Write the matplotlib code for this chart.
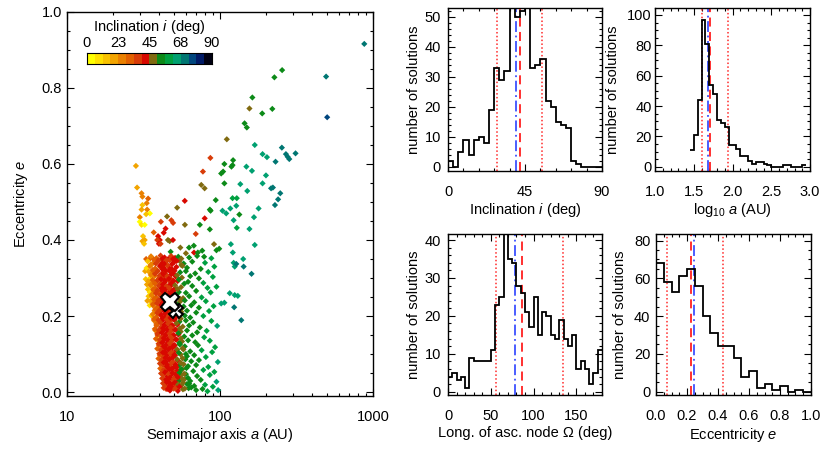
import numpy as np
import matplotlib
matplotlib.use("Agg")
import matplotlib.pyplot as plt
from matplotlib.colors import ListedColormap, BoundaryNorm
from matplotlib.ticker import MultipleLocator, FixedLocator, NullFormatter

plt.rcParams['font.family'] = ['Liberation Sans', 'DejaVu Sans']
plt.rcParams['font.size'] = 10.5
plt.rcParams['mathtext.fontset'] = 'custom'
plt.rcParams['mathtext.rm'] = 'Liberation Sans'
plt.rcParams['mathtext.it'] = 'Liberation Sans:italic'

# --- orbital solutions: sparse outer part (a [AU], e, i [deg]) ---
out_a = [255, 227, 494, 502, 163, 156, 189, 220, 145, 150,
         111, 169, 254, 270, 277, 284, 312, 190, 203, 231,
         86.7, 28.3, 107, 122, 121, 119, 149, 162, 77.5, 102,
         105, 200, 75.6, 79.5, 28.8, 107, 136, 190, 151, 216,
         222, 248, 30.8, 31.2, 34.0, 33.3, 94, 121, 129, 240,
         229, 59, 31.2, 30.8, 33.5, 52.6, 86, 87, 117, 128,
         179, 104, 110, 34.9, 33, 30, 45.2, 134, 167, 79.6,
         48.2, 49.5, 30, 30.8, 32.3, 59.1, 41.2, 123, 74, 129,
         156, 86, 69.6, 44.2, 43, 37, 39.5, 40.5, 39, 40,
         41, 31.5, 32.3, 31.2, 32, 45.8, 47, 49.4, 55.2, 62.9,
         67.6, 60, 67.8, 76.7, 78.9, 91.6, 95, 99, 118, 121.5,
         169, 33, 34.8, 161, 142, 143, 125, 123, 128, 116,
         125, 131, 102, 107, 124, 138, 97.4, 877, 42, 47.7,
         71.8, 32.5, 32.8, 33.4, 33.9, 34.2, 33.6, 34.8]
out_e = [0.847, 0.828, 0.83, 0.723, 0.775, 0.746, 0.733, 0.745, 0.707, 0.696,
         0.665, 0.65, 0.643, 0.626, 0.619, 0.613, 0.628, 0.626, 0.618, 0.606,
         0.616, 0.595, 0.60, 0.61, 0.597, 0.593, 0.593, 0.582, 0.58, 0.575,
         0.58, 0.57, 0.545, 0.536, 0.538, 0.549, 0.547, 0.549, 0.529, 0.536,
         0.538, 0.523, 0.523, 0.514, 0.509, 0.497, 0.505, 0.51, 0.51, 0.507,
         0.492, 0.503, 0.492, 0.48, 0.48, 0.485, 0.48, 0.477, 0.483, 0.49,
         0.483, 0.477, 0.47, 0.47, 0.468, 0.46, 0.462, 0.467, 0.46, 0.457,
         0.452, 0.445, 0.448, 0.44, 0.44, 0.44, 0.448, 0.452, 0.44, 0.432,
         0.429, 0.428, 0.416, 0.43, 0.419, 0.42, 0.41, 0.40, 0.40, 0.39,
         0.39, 0.41, 0.40, 0.397, 0.39, 0.40, 0.397, 0.40, 0.38, 0.38,
         0.385, 0.365, 0.367, 0.372, 0.356, 0.389, 0.373, 0.377, 0.389, 0.367,
         0.387, 0.35, 0.35, 0.311, 0.35, 0.33, 0.33, 0.34, 0.337, 0.26,
         0.255, 0.253, 0.233, 0.235, 0.223, 0.189, 0.005, 0.916, 0.35, 0.369,
         0.367, 0.318, 0.297, 0.283, 0.27, 0.252, 0.240, 0.228]
out_i = [54, 56, 70, 75, 54, 50, 55, 56, 53, 52,
         49, 63, 70, 70, 71, 72, 70, 64, 65, 72,
         38, 20, 54, 55, 53, 56, 63, 64, 38, 54,
         55, 64, 48, 48, 20, 55, 63, 64, 62, 68,
         68, 72, 24, 26, 30, 28, 55, 57, 60, 72,
         73, 42, 15, 19, 26, 48, 55, 54, 62, 66,
         63, 64, 64, 5, 14, 24, 48, 56, 64, 42,
         35, 35, 4, 8, 3, 48, 36, 62, 54, 58,
         63, 55, 38, 40, 42, 32, 40, 42, 36, 43,
         37, 14, 19, 22, 16, 47, 46, 42, 48, 53,
         55, 48, 42, 54, 53, 50, 55, 56, 63, 63,
         63, 30, 33, 72, 66, 70, 64, 66, 68, 64,
         63, 66, 62, 63, 70, 71, 64, 68, 47, 53,
         55, 18, 12, 20, 16, 14, 22, 10]

# --- dense band of solutions near a ~ 40-60 AU ---
band_a = [35.5, 38.5, 41, 43.5, 46, 48, 51, 53.5, 56, 63, 71, 88,
          33.8, 36.8, 39.5, 42, 44.5, 47, 50, 54.5, 58, 66, 80,
          33.2, 35, 37.8, 40.6, 43, 45.5, 48.5, 52, 57, 61, 75, 92,
          34.3, 36.2, 39, 41.8, 44, 46.8, 49.5, 55, 60, 69, 84,
          35.1, 37.5, 40, 42.5, 45, 47.8, 51.5, 56.5, 64, 73, 90,
          34, 36.5, 38.8, 41.2, 43.8, 46.3, 49, 53, 58.5, 62, 78,
          35.6, 37.9, 40.3, 42.9, 45.4, 48.2, 51, 55.8, 66, 83, 95,
          34.9, 37, 39.6, 42, 44.6, 47.3, 50.3, 54, 60, 70, 87,
          36, 38.3, 41, 43.4, 46, 48.8, 52.5, 57.5, 63, 76,
          35.3, 37.6, 40, 42.3, 44.9, 47.6, 50.8, 55, 59, 68, 81,
          36.7, 39.1, 41.5, 44.1, 46.6, 49.5, 53.5, 58, 65, 73, 91,
          37.5, 40.2, 42.7, 45.2, 47.9, 51.2, 56, 61, 70, 85,
          35.8, 38.4, 41, 43.6, 46.1, 48.9, 52, 59, 64, 78,
          37.2, 39.8, 42.2, 44.8, 47.4, 50.4, 54.5, 60, 67, 88,
          38.6, 41.3, 43.9, 46.4, 49.2, 52.8, 57.2, 63, 74, 96,
          37.9, 40.5, 43, 45.6, 48.3, 51.6, 55.5, 61, 71, 82,
          39.3, 41.8, 44.3, 46.9, 49.8, 53.6, 58.5, 66, 79,
          39.5, 40.8, 43.3, 45.9, 48.6, 52.2, 56.6, 62, 69, 86,
          40.1, 42.6, 45.1, 47.7, 50.7, 54.8, 59, 72, 93,
          41.2, 43.7, 46.2, 48.9, 52, 57.8, 64, 76, 89,
          40.6, 42.9, 45.4, 48, 50.9, 55.4, 61, 68, 81,
          41.7, 44.2, 46.8, 49.6, 53, 59.5, 65, 73, 97,
          42.3, 44.9, 47.5, 50.3, 54.2, 58, 62, 70, 84,
          41.9, 44.5, 47.1, 49.9, 52.8, 56.9, 67, 78, 92,
          42.8, 45.6, 48.3, 51.3, 55.7, 60, 71, 86,
          43.4, 46.1, 48.8, 51.8, 54.5, 58.8, 64, 75, 95,
          44, 46.7, 49.3, 52.4, 56.2, 61, 68, 80, 90,
          44.6, 47.2, 50, 53.2, 57.4, 62.5, 70, 77, 83]
band_e = [0.357, 0.352, 0.359, 0.354, 0.350, 0.358, 0.353, 0.356, 0.351, 0.354, 0.358, 0.352,
          0.344, 0.340, 0.346, 0.339, 0.343, 0.347, 0.341, 0.345, 0.338, 0.343, 0.340,
          0.326, 0.331, 0.325, 0.330, 0.327, 0.333, 0.324, 0.329, 0.332, 0.327, 0.324, 0.330,
          0.317, 0.313, 0.318, 0.311, 0.316, 0.319, 0.312, 0.315, 0.318, 0.312, 0.316,
          0.300, 0.305, 0.299, 0.303, 0.306, 0.298, 0.304, 0.301, 0.305, 0.299, 0.303,
          0.291, 0.287, 0.292, 0.286, 0.290, 0.294, 0.288, 0.292, 0.285, 0.290, 0.287,
          0.278, 0.273, 0.279, 0.274, 0.277, 0.281, 0.272, 0.276, 0.279, 0.274, 0.277,
          0.262, 0.267, 0.261, 0.266, 0.260, 0.265, 0.268, 0.263, 0.261, 0.266, 0.262,
          0.253, 0.249, 0.254, 0.248, 0.252, 0.255, 0.250, 0.247, 0.252, 0.249,
          0.240, 0.236, 0.241, 0.235, 0.239, 0.242, 0.234, 0.238, 0.241, 0.236, 0.239,
          0.227, 0.222, 0.228, 0.223, 0.226, 0.229, 0.221, 0.225, 0.228, 0.222, 0.226,
          0.214, 0.210, 0.215, 0.209, 0.213, 0.216, 0.211, 0.214, 0.209, 0.213,
          0.201, 0.197, 0.202, 0.196, 0.200, 0.203, 0.198, 0.201, 0.196, 0.200,
          0.188, 0.184, 0.189, 0.183, 0.187, 0.190, 0.185, 0.188, 0.183, 0.187,
          0.175, 0.171, 0.176, 0.170, 0.174, 0.177, 0.172, 0.175, 0.170, 0.174,
          0.162, 0.158, 0.163, 0.157, 0.161, 0.164, 0.159, 0.162, 0.157, 0.161,
          0.149, 0.145, 0.150, 0.144, 0.148, 0.151, 0.146, 0.149, 0.144,
          0.136, 0.132, 0.137, 0.131, 0.135, 0.138, 0.133, 0.136, 0.131, 0.135,
          0.123, 0.119, 0.124, 0.118, 0.122, 0.125, 0.120, 0.123, 0.118,
          0.110, 0.106, 0.111, 0.105, 0.109, 0.112, 0.107, 0.110, 0.105,
          0.097, 0.093, 0.098, 0.092, 0.096, 0.099, 0.094, 0.097, 0.092,
          0.084, 0.080, 0.085, 0.079, 0.083, 0.086, 0.081, 0.084, 0.079,
          0.071, 0.067, 0.072, 0.066, 0.070, 0.073, 0.068, 0.071, 0.066,
          0.058, 0.054, 0.059, 0.053, 0.057, 0.060, 0.055, 0.058, 0.053,
          0.045, 0.041, 0.046, 0.040, 0.044, 0.047, 0.042, 0.045,
          0.032, 0.028, 0.033, 0.027, 0.031, 0.034, 0.029, 0.032, 0.027,
          0.019, 0.015, 0.020, 0.014, 0.018, 0.021, 0.016, 0.019, 0.014,
          0.008, 0.004, 0.009, 0.003, 0.007, 0.010, 0.005, 0.008, 0.002]
band_i = [24, 31, 37, 42, 40, 36, 44, 53, 49, 53, 55, 58,
          16, 27, 34, 41, 43, 35, 42, 48, 52, 54, 57,
          8, 24, 29, 35, 42, 31, 41, 42, 50, 52, 56, 59,
          18, 26, 33, 40, 37, 43, 44, 53, 51, 55, 58,
          10, 28, 38, 34, 42, 39, 42, 49, 53, 56, 60,
          20, 26, 31, 39, 43, 37, 44, 43, 52, 53, 57,
          22, 29, 36, 40, 43, 40, 42, 48, 54, 58, 61,
          6, 29, 32, 41, 37, 43, 43, 53, 52, 55, 59,
          24, 30, 37, 42, 34, 44, 43, 50, 53, 57,
          18, 28, 35, 40, 43, 38, 42, 48, 52, 54, 58,
          26, 31, 38, 42, 36, 44, 53, 51, 53, 56, 60,
          28, 34, 41, 43, 39, 42, 48, 52, 55, 59,
          12, 30, 37, 42, 35, 44, 43, 51, 53, 57,
          27, 33, 40, 43, 38, 42, 53, 52, 54, 60,
          29, 36, 41, 43, 39, 43, 50, 53, 56, 62,
          24, 35, 40, 42, 37, 42, 48, 52, 55, 58,
          31, 38, 42, 36, 44, 43, 51, 54, 57,
          8, 34, 41, 43, 38, 42, 49, 53, 55, 59,
          32, 40, 37, 43, 42, 53, 52, 56, 61,
          35, 41, 43, 39, 44, 50, 53, 57, 60,
          30, 39, 42, 36, 42, 48, 52, 54, 58,
          37, 41, 43, 38, 43, 51, 53, 56, 63,
          34, 42, 39, 44, 53, 50, 52, 55, 59,
          31, 40, 43, 37, 42, 48, 54, 57, 61,
          36, 41, 43, 42, 48, 52, 55, 59,
          38, 42, 35, 44, 53, 50, 53, 56, 62,
          37, 42, 39, 42, 48, 52, 54, 57, 60,
          39, 43, 37, 42, 49, 52, 55, 56, 58]

# --- extra solutions filling the band core ---
fill_a = [37, 39.8, 42.3, 44.8, 49.5, 52.2,
          35.4, 38.2, 40.8, 43.3, 46, 48.8, 56,
          36.4, 39.3, 42.2, 44.3, 47.2, 50.5,
          35.4, 37.7, 40.4, 43, 45.4, 48.2, 52.5,
          36.3, 38.8, 41.3, 43.7, 46.5, 49.8, 54,
          35.3, 37.7, 40, 42.5, 45, 47.6, 51,
          36.7, 39.1, 41.6, 44.1, 46.8, 49.6, 53,
          36, 38.3, 40.8, 43.3, 46, 48.7, 52,
          37.1, 39.7, 42.2, 44.7, 47.4, 50.6, 55,
          36.5, 38.8, 41.2, 43.6, 46.2, 49.2, 52.8,
          38, 40.3, 42.9, 45.4, 48, 51.5, 56,
          36.5, 39, 41.5, 44, 46.6, 49.6, 53.8,
          37.1, 39.7, 42.3, 44.9, 47.6, 50.6, 55.5,
          38.5, 41, 43.5, 46, 48.8, 52.2,
          37.6, 40, 42.5, 45, 47.8, 50.9, 54.8,
          39, 41.8, 44.3, 47, 49.9, 53.6,
          38.2, 40.5, 43, 45.6, 48.2, 51.5, 55.8,
          39.8, 42, 44.6, 47.2, 50.2, 54.3,
          39, 41.4, 43.9, 46.4, 49.2, 52.6, 57,
          40.3, 42.5, 45, 47.5, 50.5, 54, 60,
          39.7, 41.8, 44.1, 46.6, 49.4, 52.6, 57,
          40.6, 43, 45.5, 48.2, 51.5, 55.5,
          40.8, 43.2, 45.8, 48.6, 52, 56, 60.5,
          41.3, 43.8, 46.4, 49, 51.6, 54.5, 58.5,
          42, 44.6, 47.3, 50.2, 53.2, 57, 62,
          42.5, 45, 47.7, 50.5, 53.5, 57.5, 63,
          43, 45.8, 48.4, 51.2, 54.4, 59, 65]
fill_e = [0.349, 0.346, 0.351, 0.347, 0.350, 0.345,
          0.335, 0.338, 0.333, 0.336, 0.332, 0.337, 0.334,
          0.321, 0.318, 0.323, 0.320, 0.324, 0.319,
          0.308, 0.311, 0.306, 0.309, 0.305, 0.310, 0.307,
          0.295, 0.292, 0.297, 0.294, 0.298, 0.293, 0.296,
          0.282, 0.285, 0.280, 0.283, 0.279, 0.284, 0.281,
          0.270, 0.267, 0.272, 0.269, 0.273, 0.268, 0.271,
          0.257, 0.260, 0.255, 0.258, 0.254, 0.259, 0.256,
          0.244, 0.241, 0.246, 0.243, 0.247, 0.242, 0.245,
          0.231, 0.234, 0.229, 0.232, 0.228, 0.233, 0.230,
          0.218, 0.215, 0.220, 0.217, 0.221, 0.216, 0.219,
          0.205, 0.208, 0.203, 0.206, 0.202, 0.207, 0.204,
          0.192, 0.189, 0.194, 0.191, 0.195, 0.190, 0.193,
          0.179, 0.182, 0.177, 0.180, 0.176, 0.181,
          0.166, 0.163, 0.168, 0.165, 0.169, 0.164, 0.167,
          0.153, 0.156, 0.151, 0.154, 0.150, 0.155,
          0.140, 0.137, 0.142, 0.139, 0.143, 0.138, 0.141,
          0.127, 0.130, 0.125, 0.128, 0.124, 0.129,
          0.114, 0.111, 0.116, 0.113, 0.117, 0.112, 0.115,
          0.101, 0.104, 0.099, 0.102, 0.098, 0.103, 0.100,
          0.088, 0.085, 0.090, 0.087, 0.091, 0.086, 0.089,
          0.075, 0.078, 0.073, 0.076, 0.072, 0.077,
          0.062, 0.059, 0.064, 0.061, 0.065, 0.060, 0.063,
          0.049, 0.052, 0.047, 0.050, 0.046, 0.051, 0.048,
          0.036, 0.033, 0.038, 0.035, 0.039, 0.034, 0.037,
          0.023, 0.026, 0.021, 0.024, 0.020, 0.025, 0.022,
          0.011, 0.008, 0.013, 0.010, 0.014, 0.009, 0.012]
fill_i = [33, 39, 41, 38, 43, 42,
          28, 36, 40, 42, 39, 44, 49,
          30, 37, 41, 43, 40, 44,
          26, 34, 39, 42, 38, 43, 46,
          29, 35, 40, 43, 41, 42, 54,
          25, 33, 38, 41, 39, 44, 46,
          30, 34, 40, 43, 37, 44, 46,
          27, 36, 39, 42, 40, 42, 54,
          31, 37, 41, 43, 39, 42, 48,
          29, 35, 40, 42, 38, 44, 54,
          33, 38, 42, 40, 43, 46, 49,
          27, 34, 40, 43, 37, 42, 54,
          30, 36, 41, 38, 42, 42, 48,
          33, 39, 42, 37, 44, 46,
          29, 37, 41, 43, 39, 42, 48,
          34, 40, 42, 38, 44, 54,
          31, 38, 41, 43, 37, 42, 48,
          35, 40, 43, 39, 44, 54,
          33, 37, 42, 40, 43, 46, 49,
          36, 40, 43, 38, 42, 54, 51,
          32, 39, 41, 43, 40, 46, 49,
          35, 40, 43, 38, 42, 48,
          33, 38, 42, 41, 44, 54, 51,
          36, 41, 39, 43, 42, 54, 50,
          34, 40, 42, 38, 42, 48, 52,
          38, 42, 40, 44, 46, 49, 53,
          37, 43, 41, 39, 42, 50, 54]

# best-fit markers (a, e)
best_a = [51.5, 47.2]
best_e = [0.212, 0.238]

# --- histograms ---
inc_edges = np.arange(0, 93, 3)
inc_counts = [2, 0, 5, 9, 4, 9, 10, 8, 19, 33, 29, 32, 60, 50, 52, 56, 33, 34,
              36, 22, 20, 15, 14, 13, 2, 1, 0, 0, 0, 0]
inc_lines = {'dot': [28.5, 54.8], 'dash': 42.3, 'dashdot': 39.6}

loga_edges = np.round(np.arange(1.45, 2.96, 0.05), 2)
loga_counts = [11, 21, 44, 97, 81, 54, 48, 31, 29, 26, 14, 14, 12, 7, 7, 4, 2,
               3, 3, 2, 1, 0, 0, 0, 1, 1, 0, 0, 0, 1]
loga_lines = {'dot': [1.60, 1.94], 'dash': 1.71, 'dashdot': 1.69}

node_edges = np.arange(0, 185, 5)
node_counts = [4, 5, 3, 4, 1, 9, 8, 8, 8, 8, 11, 23, 25, 45, 35, 34, 28, 26,
               21, 17, 25, 15, 21, 20, 15, 14, 19, 14, 12, 15, 6, 8, 6, 2, 5, 11]
node_lines = {'dot': [56.5, 134], 'dash': 86.5, 'dashdot': 78.3}

ecc_edges = np.round(np.arange(0, 1.05, 0.05), 2)
ecc_counts = [68, 58, 53, 61, 65, 56, 40, 31, 24, 24, 18, 8, 11, 2, 4, 1, 3, 0, 1, 0]
ecc_lines = {'dot': [0.069, 0.431], 'dash': 0.224, 'dashdot': 0.248}

# inclination colour table (16 steps)
inc_colors = ['#ffff00', '#ffe000', '#f8c200', '#f2a400', '#ea8000', '#e26000',
              '#d83c08', '#d80800', '#806a10', '#0c8a18', '#00a040', '#00a070',
              '#007672', '#00467e', '#001a66', '#000012']
inc_ticks = [0, 22.5, 45, 67.5, 90]
inc_ticklabels = ['0', '23', '45', '68', '90']

cmap = ListedColormap(inc_colors)
norm = BoundaryNorm(np.linspace(0, 90, 17), cmap.N)

fig = plt.figure(figsize=(8.3, 4.5), dpi=100)


def style(ax):
    ax.tick_params(which='both', direction='in', top=True, right=True, width=0.8)
    ax.tick_params(which='major', length=5)
    ax.tick_params(which='minor', length=2.5)
    for s in ax.spines.values():
        s.set_linewidth(1.0)


# ---- scatter panel ----
ax = fig.add_axes([0.0804, 0.1204, 0.369, 0.853])
sa = np.concatenate([out_a, band_a, fill_a])
se = np.concatenate([out_e, band_e, fill_e])
si = np.concatenate([out_i, band_i, fill_i])
ax.scatter(sa, se, c=si, cmap=cmap, norm=norm, marker='D', s=10, linewidths=0, zorder=2)
ax.plot(best_a[0], best_e[0], marker='X', ms=10, mfc='white', mec='black', mew=1.5, zorder=3)
ax.plot(best_a[1], best_e[1], marker='X', ms=13, mfc='white', mec='black', mew=1.5, zorder=4)
ax.set_xscale('log')
ax.set_xlim(10, 1000)
ax.set_ylim(-0.01, 1.0)
ax.set_xticks([10, 100, 1000])
ax.set_xticklabels(['10', '100', '1000'])
ax.xaxis.set_minor_formatter(NullFormatter())
ax.yaxis.set_major_locator(MultipleLocator(0.2))
ax.yaxis.set_minor_locator(MultipleLocator(0.05))
ax.set_yticklabels([f'{v:.1f}' for v in ax.get_yticks()])
style(ax)
ax.tick_params(axis='x', which='major', pad=10)
ax.tick_params(axis='y', which='major', pad=3.5)
ax.set_xlabel('Semimajor axis $a$ (AU)', labelpad=2)
ax.set_ylabel('Eccentricity $e$', labelpad=8)

# colour bar inside the scatter panel
cax = fig.add_axes([0.1048, 0.8578, 0.1506, 0.0244])
cax.imshow(np.arange(16)[None, :], cmap=cmap, aspect='auto', extent=[0, 90, 0, 1])
cax.set_xlim(0, 90)
cax.set_yticks([])
cax.set_xticks(inc_ticks)
cax.set_xticklabels(inc_ticklabels)
cax.xaxis.tick_top()
cax.tick_params(length=0, pad=2)
for s in cax.spines.values():
    s.set_linewidth(0.8)
cax.set_title('Inclination $i$ (deg)', fontsize=10.5, pad=16)


# ---- histograms ----
def hist_panel(rect, edges, counts, lines, xlim, ylim, xmaj, xmin, ymaj, ymin,
               xlabel, xticks_fmt, ypad, ylpad):
    h = fig.add_axes(rect)
    h.stairs(counts, edges, color='black', lw=1.3, baseline=None, zorder=3)
    for x in lines['dot']:
        h.axvline(x, color='#ff2a2a', ls=(0, (1, 1.5)), lw=1.1, zorder=2)
    h.axvline(lines['dash'], color='#ff2020', ls=(0, (5, 3)), lw=1.3, zorder=2)
    h.axvline(lines['dashdot'], color='#3c50ff', ls=(0, (6, 2, 1, 2)), lw=1.3, zorder=2)
    h.set_xlim(*xlim)
    h.set_ylim(*ylim)
    h.xaxis.set_major_locator(FixedLocator(xmaj))
    h.xaxis.set_minor_locator(MultipleLocator(xmin))
    h.yaxis.set_major_locator(MultipleLocator(ymaj))
    h.yaxis.set_minor_locator(MultipleLocator(ymin))
    h.set_xticklabels([xticks_fmt(v) for v in xmaj])
    style(h)
    h.tick_params(axis='x', which='major', pad=10)
    h.tick_params(axis='y', which='major', pad=ypad)
    h.set_xlabel(xlabel, labelpad=2)
    h.set_ylabel('number of solutions', labelpad=ylpad)
    return h


hist_panel([0.5398, 0.6207, 0.1855, 0.3616], inc_edges, inc_counts, inc_lines,
           (0, 90), (-1.3, 52.9), [0, 45, 90], 9, 10, 2,
           'Inclination $i$ (deg)', lambda v: f'{v:g}', 5, 3)
hist_panel([0.7892, 0.6207, 0.1867, 0.3616], loga_edges, loga_counts, loga_lines,
           (1.0, 3.0), (-2.6, 104.6), [1.0, 1.5, 2.0, 2.5, 3.0], 0.1, 20, 5,
           'log$_{10}$ $a$ (AU)', lambda v: f'{v:.1f}', 2.5, 5)
hist_panel([0.5398, 0.1222, 0.1855, 0.3578], node_edges, node_counts, node_lines,
           (0, 180), (-0.87, 41.6), [0, 50, 100, 150], 10, 10, 2,
           'Long. of asc. node Ω (deg)', lambda v: f'{v:g}', 5, 3)
hist_panel([0.7904, 0.1222, 0.1867, 0.3578], ecc_edges, ecc_counts, ecc_lines,
           (0, 1.0), (-1.75, 83.5), [0.0, 0.2, 0.4, 0.6, 0.8, 1.0], 0.05, 20, 5,
           'Eccentricity $e$', lambda v: f'{v:.1f}', 4, 5)

fig.savefig('out.png', dpi=100)
